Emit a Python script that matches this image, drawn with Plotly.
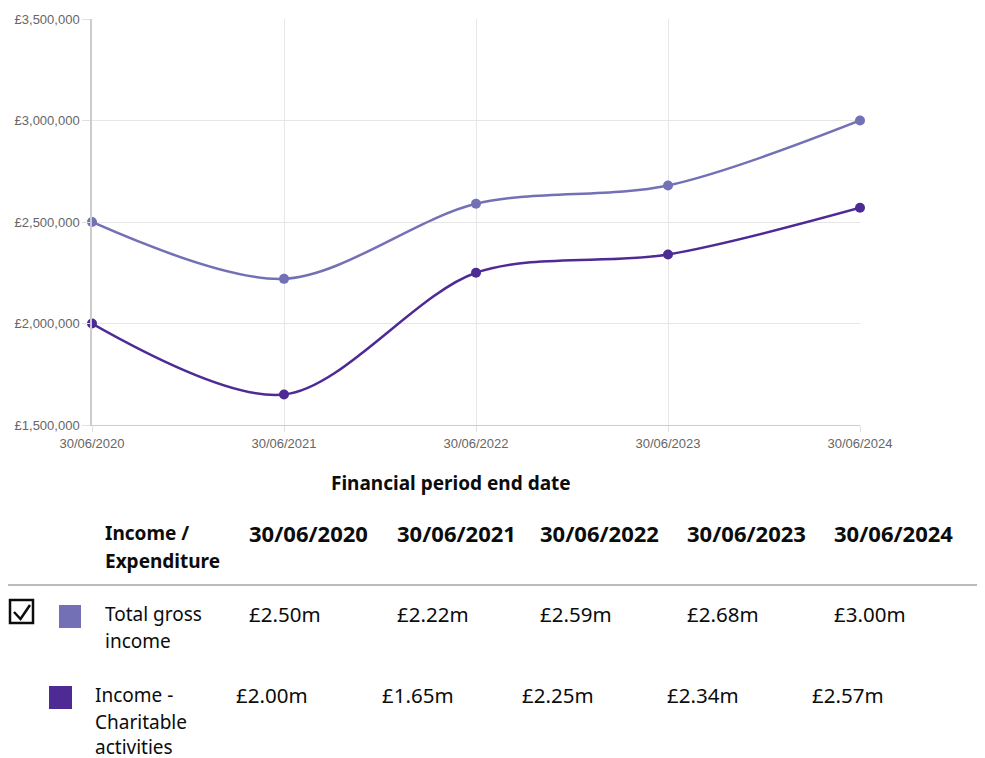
import plotly.graph_objects as go

dates = ["30/06/2020", "30/06/2021", "30/06/2022", "30/06/2023", "30/06/2024"]
total_gross_income = [2500000, 2220000, 2590000, 2680000, 3000000]
income_charitable = [2000000, 1650000, 2250000, 2340000, 2570000]
series_names = ["Total gross income", "Income - Charitable activities"]
y_ticks = [1500000, 2000000, 2500000, 3000000, 3500000]

C_LIGHT = "#7370b6"
C_DARK = "#4d2a94"
TXT = "#0b0c0c"

OFF = 8  # page body margin
W, H = 977, 750
# plot area in page pixels
PL, PR, PT, PB = 92, 860, 19, 425
L, R, T, B = PL - OFF, PR - OFF, PT - OFF, PB - OFF


def px(x):
    return (x - PL) / (PR - PL)


def py(y):
    return (PB - y) / (PB - PT)


fig = go.Figure()
fig.add_trace(go.Scatter(
    x=dates, y=total_gross_income, name=series_names[0], mode="lines+markers",
    line=dict(color=C_LIGHT, width=2.5, shape="spline", smoothing=0.9),
    marker=dict(size=10, color=C_LIGHT), cliponaxis=False))
fig.add_trace(go.Scatter(
    x=dates, y=income_charitable, name=series_names[1], mode="lines+markers",
    line=dict(color=C_DARK, width=2.5, shape="spline", smoothing=0.9),
    marker=dict(size=10, color=C_DARK), cliponaxis=False))

fig.update_layout(
    width=W, height=H, showlegend=False,
    plot_bgcolor="white", paper_bgcolor="white",
    margin=dict(l=L, r=W - R, t=T, b=H - B, autoexpand=False),
    font=dict(family="Liberation Sans, Arial, sans-serif", color="#666"),
)
fig.update_xaxes(
    type="category", range=[0, 4], showgrid=True, gridcolor="#e6e6e6", gridwidth=1,
    showline=True, linecolor="#cccccc", linewidth=1, automargin=False,
    ticks="outside", ticklen=6, tickcolor="#e0e0e0",
    tickfont=dict(size=13, color="#666"), zeroline=False)
fig.update_yaxes(
    range=[y_ticks[0], y_ticks[-1]], tickvals=y_ticks,
    ticktext=[f"£{v:,}" for v in y_ticks], automargin=False,
    showgrid=True, gridcolor="#e6e6e6", gridwidth=1,
    showline=True, linecolor="#cccccc", linewidth=1.5,
    ticks="outside", ticklen=8, tickcolor="#e0e0e0",
    tickfont=dict(size=13, color="#666"), zeroline=False)

ann = []
shapes = []


def text(x, y, s, size=19, bold=False, anchor="left", color=TXT):
    ann.append(dict(
        xref="paper", yref="paper", x=px(x), y=py(y), text=f"<b>{s}</b>" if bold else s,
        showarrow=False, xanchor=anchor, yanchor="middle",
        font=dict(family="Noto Sans, Lato, sans-serif", size=size, color=color)))


# axis title
text(451, 483, "Financial period end date", size=19, bold=True, anchor="center")

# table header
text(103, 533, "Income /", bold=True)
text(103, 561, "Expenditure", bold=True)
head_x = [247, 395, 538, 685, 832]
for d, x in zip(dates, head_x):
    text(x, 533, d, size=22, bold=True)

shapes.append(dict(type="line", xref="paper", yref="paper",
                   x0=px(8), x1=px(982), y0=py(585), y1=py(585),
                   line=dict(color="#777", width=1)))

# row 1
shapes.append(dict(type="rect", xref="paper", yref="paper",
                   x0=px(10), x1=px(33), y0=py(600), y1=py(623),
                   line=dict(color=TXT, width=2.5), fillcolor="white"))
shapes.append(dict(type="path", xref="paper", yref="paper",
                   path=f"M {px(14)},{py(612)} L {px(20.5)},{py(619)} L {px(30)},{py(605)}",
                   line=dict(color=TXT, width=2.5)))
shapes.append(dict(type="rect", xref="paper", yref="paper",
                   x0=px(59), x1=px(81), y0=py(605), y1=py(628),
                   line=dict(width=0), fillcolor=C_LIGHT))
text(103, 614, "Total gross")
text(103, 641, "income")
for v, x in zip(total_gross_income, head_x):
    text(x, 614, f"£{v/1e6:.2f}m", size=20.5)

# row 2
shapes.append(dict(type="rect", xref="paper", yref="paper",
                   x0=px(49), x1=px(72), y0=py(686), y1=py(709),
                   line=dict(width=0), fillcolor=C_DARK))
text(93, 695, "Income -")
text(93, 722, "Charitable")
text(93, 747, "activities")
row2_x = [234, 380, 520, 665, 810]
for v, x in zip(income_charitable, row2_x):
    text(x, 695, f"£{v/1e6:.2f}m", size=20.5)

fig.update_layout(annotations=ann, shapes=shapes)
fig.write_html("out.html")
